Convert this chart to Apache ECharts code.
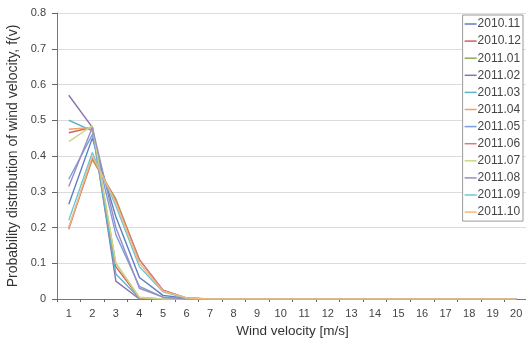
<!DOCTYPE html>
<html>
<head>
<meta charset="utf-8">
<script src="https://cdn.jsdelivr.net/npm/echarts@6/dist/echarts.min.js"></script>
<style>
  html, body { margin: 0; padding: 0; background: #fff; }
  #chart { width: 526px; height: 338px; }
</style>
</head>
<body>
<div id="chart"></div>
<script>
// Wind speed bins (m/s)
const speeds = ['1','2','3','4','5','6','7','8','9','10','11','12','13','14','15','16','17','18','19','20'];
const yTicks = [0, 0.1, 0.2, 0.3, 0.4, 0.5, 0.6, 0.7, 0.8];

// Monthly probability distributions f(v)
const m201011 = [0.265, 0.450, 0.230, 0.060, 0.010, 0.002, 0, 0, 0, 0, 0, 0, 0, 0, 0, 0, 0, 0, 0, 0];
const m201012 = [0.465, 0.480, 0.090, 0.003, 0, 0, 0, 0, 0, 0, 0, 0, 0, 0, 0, 0, 0, 0, 0, 0];
const m201101 = [0.200, 0.390, 0.280, 0.110, 0.025, 0.003, 0, 0, 0, 0, 0, 0, 0, 0, 0, 0, 0, 0, 0, 0];
const m201102 = [0.570, 0.480, 0.050, 0, 0, 0, 0, 0, 0, 0, 0, 0, 0, 0, 0, 0, 0, 0, 0, 0];
const m201103 = [0.500, 0.470, 0.070, 0.002, 0, 0, 0, 0, 0, 0, 0, 0, 0, 0, 0, 0, 0, 0, 0, 0];
const m201104 = [0.475, 0.480, 0.100, 0.003, 0, 0, 0, 0, 0, 0, 0, 0, 0, 0, 0, 0, 0, 0, 0, 0];
const m201105 = [0.335, 0.460, 0.180, 0.035, 0.005, 0, 0, 0, 0, 0, 0, 0, 0, 0, 0, 0, 0, 0, 0, 0];
const m201106 = [0.195, 0.395, 0.275, 0.110, 0.025, 0.002, 0, 0, 0, 0, 0, 0, 0, 0, 0, 0, 0, 0, 0, 0];
const m201107 = [0.440, 0.485, 0.100, 0.005, 0, 0, 0, 0, 0, 0, 0, 0, 0, 0, 0, 0, 0, 0, 0, 0];
const m201108 = [0.315, 0.480, 0.200, 0.030, 0.005, 0, 0, 0, 0, 0, 0, 0, 0, 0, 0, 0, 0, 0, 0, 0];
const m201109 = [0.220, 0.410, 0.260, 0.090, 0.020, 0.002, 0, 0, 0, 0, 0, 0, 0, 0, 0, 0, 0, 0, 0, 0];
const m201110 = [0.200, 0.400, 0.270, 0.100, 0.022, 0.003, 0, 0, 0, 0, 0, 0, 0, 0, 0, 0, 0, 0, 0, 0];

const months = ['2010.11','2010.12','2011.01','2011.02','2011.03','2011.04',
                '2011.05','2011.06','2011.07','2011.08','2011.09','2011.10'];
const monthData = [m201011, m201012, m201101, m201102, m201103, m201104,
                   m201105, m201106, m201107, m201108, m201109, m201110];
const colors = ['#5b7fc0','#d0605c','#8fac4f','#8a72ad','#5bb3cc','#f0a061',
                '#7aa0dc','#e07480','#c8d88a','#9a8cc0','#6cc8d8','#f6b878'];

const chart = echarts.init(document.getElementById('chart'));
chart.setOption({
  animation: false,
  color: colors,
  textStyle: { fontFamily: 'Liberation Sans, Arial, sans-serif' },
  grid: { left: 57, right: -2, top: 13, bottom: 39, outerBoundsMode: 'none' },
  legend: {
    orient: 'vertical',
    right: 3,
    top: 15,
    data: months,
    icon: 'rect',
    itemWidth: 12,
    itemHeight: 1.5,
    itemGap: 5.1,
    padding: [3, 2, 3, 2],
    borderColor: '#999',
    borderWidth: 1,
    backgroundColor: '#fff',
    textStyle: { fontSize: 12, color: '#444', padding: [0, 0, 0, -4] }
  },
  xAxis: {
    type: 'category',
    data: speeds,
    boundaryGap: true,
    name: 'Wind velocity [m/s]',
    nameLocation: 'middle',
    nameGap: 22,
    nameTextStyle: { fontSize: 13.5, color: '#333' },
    axisLine: { lineStyle: { color: '#777' } },
    axisTick: { show: true, length: 3, lineStyle: { color: '#666' } },
    axisLabel: { fontSize: 11, color: '#444', margin: 9 }
  },
  yAxis: {
    type: 'value',
    min: 0,
    max: 0.8,
    interval: 0.1,
    name: 'Probability distribution of wind velocity, f(v)',
    nameLocation: 'middle',
    nameGap: 37,
    nameTextStyle: { fontSize: 14, color: '#333' },
    axisLine: { show: true, lineStyle: { color: '#777' } },
    axisTick: { show: true, length: 5, lineStyle: { color: '#666' } },
    axisLabel: {
      fontSize: 11, color: '#444', margin: 11,
      formatter: v => {
        const t = yTicks.find(x => Math.abs(x - v) < 1e-9);
        return t === 0 ? '0' : String(t);
      }
    },
    splitLine: { lineStyle: { color: '#dcdcdc', width: 1.2 } }
  },
  series: months.map((m, i) => ({
    name: m,
    type: 'line',
    data: monthData[i],
    symbol: 'none',
    lineStyle: { width: 1.4 }
  }))
});
</script>
</body>
</html>
